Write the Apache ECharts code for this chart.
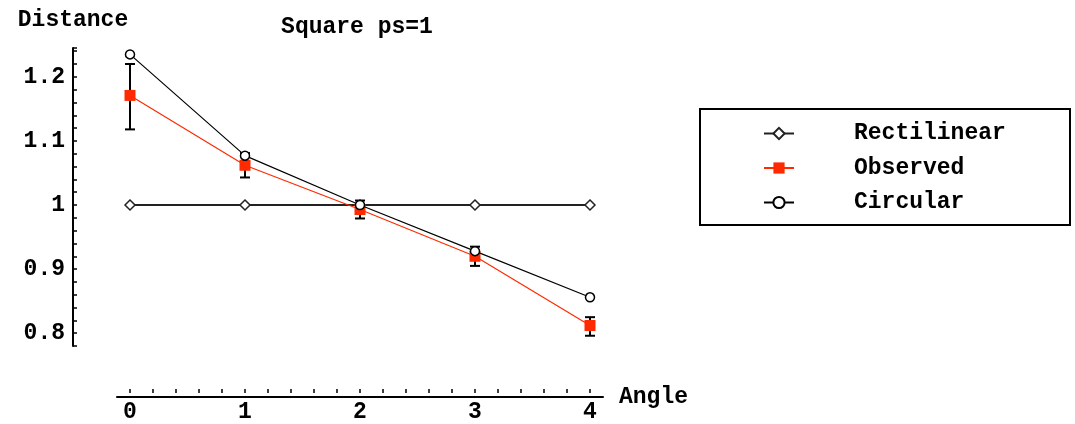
<!DOCTYPE html>
<html>
<head>
<meta charset="utf-8">
<script src="https://cdn.jsdelivr.net/npm/echarts@6/dist/echarts.min.js"></script>
<style>html,body{margin:0;padding:0;background:#fff}#c{width:1075px;height:424px}</style>
</head>
<body>
<div id="c"></div>
<script>
// ---- data ----
var angles = [0, 1, 2, 3, 4];
var rectilinear = [1, 1, 1, 1, 1];
var observed = [1.171, 1.062, 0.993, 0.920, 0.812];
var observedLow = [1.118, 1.043, 0.979, 0.905, 0.796];
var observedHigh = [1.220, 1.081, 1.007, 0.935, 0.825];
var circular = [1.235, 1.077, 1.000, 0.928, 0.856];
var seriesNames = ['Rectilinear', 'Observed', 'Circular'];
var titleText = 'Square ps=1';
var xName = 'Angle', yName = 'Distance';

var FONT = '"Liberation Mono", "Courier New", monospace';
var FS = 23;
var RED = '#ff2a00';

function pairs(ys) { return angles.map(function (x, i) { return [x, ys[i]]; }); }
var errData = angles.map(function (x, i) { return [x, observedLow[i], observedHigh[i]]; });

var chart = echarts.init(document.getElementById('c'), null, { renderer: 'canvas' });
chart.setOption({
  animation: false,
  backgroundColor: '#fff',
  textStyle: { fontFamily: FONT },
  graphic: [{
    type: 'text', x: 357, y: 27,
    style: { text: titleText, font: 'bold ' + FS + 'px ' + FONT, fill: '#000', textAlign: 'center', textVerticalAlign: 'middle' }
  }],
  grid: [
    { left: 73, top: 48, width: 530, height: 298 },
    { left: 117, top: 300, width: 486, height: 97 },
    { left: 130, top: 300, width: 460, height: 97 }
  ],
  xAxis: [
    { gridIndex: 0, type: 'value', min: (73 - 130) / 115, max: (603 - 130) / 115, show: false },
    { gridIndex: 1, type: 'value', min: 0, max: 1, position: 'bottom',
      axisLine: { show: true, onZero: false, lineStyle: { color: '#000', width: 2 } },
      axisTick: { show: false }, axisLabel: { show: false }, splitLine: { show: false },
      name: xName, nameLocation: 'end', nameGap: 16,
      nameTextStyle: { fontFamily: FONT, fontSize: FS, fontWeight: 'bold', color: '#000', verticalAlign: 'middle' }
    },
    { gridIndex: 2, type: 'value', min: 0, max: 4, interval: 0.2, position: 'bottom',
      axisLine: { show: false, onZero: false },
      axisTick: { show: true, inside: true, length: 4, lineStyle: { color: '#000', width: 1.5 } },
      axisLabel: { margin: 8, fontFamily: FONT, fontSize: FS, fontWeight: 'bold', color: '#000',
        formatter: function (v) { var r = Math.round(v * 10); return r % 10 === 0 ? String(r / 10) : ''; } },
      splitLine: { show: false }
    }
  ],
  yAxis: [
    { gridIndex: 0, type: 'value', min: 0.78, max: 1.245, interval: 0.02, position: 'left',
      axisLine: { show: true, onZero: false, lineStyle: { color: '#000', width: 2 } },
      axisTick: { show: true, inside: true, length: 4, lineStyle: { color: '#000', width: 1.5 } },
      axisLabel: { margin: 8, fontFamily: FONT, fontSize: FS, fontWeight: 'bold', color: '#000',
        formatter: function (v) { var r = Math.round(v * 100); return r % 10 === 0 ? String(r / 100) : ''; } },
      splitLine: { show: false },
      name: yName, nameLocation: 'end', nameGap: 28,
      nameTextStyle: { fontFamily: FONT, fontSize: FS, fontWeight: 'bold', color: '#000', align: 'center', verticalAlign: 'middle' }
    },
    { gridIndex: 1, type: 'value', show: false },
    { gridIndex: 2, type: 'value', show: false }
  ],
  legend: {
    orient: 'vertical', left: 700, top: 109,
    data: seriesNames,
    padding: [13, 54, 11, 63],
    itemWidth: 30, itemHeight: 14, itemGap: 11.5,
    borderColor: '#000', borderWidth: 2,
    textStyle: { fontFamily: FONT, fontSize: FS, fontWeight: 'bold', color: '#000', lineHeight: 20, width: 162, padding: [0, 0, 0, 55] }
  },
  series: [
    { type: 'custom', xAxisIndex: 0, yAxisIndex: 0, z: 3, silent: true,
      data: errData,
      renderItem: function (params, api) {
        var x = api.value(0);
        var lo = api.coord([x, api.value(1)]);
        var hi = api.coord([x, api.value(2)]);
        var st = { stroke: '#000', lineWidth: 2 };
        return { type: 'group', children: [
          { type: 'line', shape: { x1: lo[0], y1: lo[1], x2: hi[0], y2: hi[1] }, style: st },
          { type: 'line', shape: { x1: lo[0] - 5, y1: lo[1], x2: lo[0] + 5, y2: lo[1] }, style: st },
          { type: 'line', shape: { x1: hi[0] - 5, y1: hi[1], x2: hi[0] + 5, y2: hi[1] }, style: st }
        ] };
      }
    },
    { name: seriesNames[0], type: 'line', xAxisIndex: 0, yAxisIndex: 0, z: 4,
      data: pairs(rectilinear), symbol: 'diamond', symbolSize: 10, showAllSymbol: true,
      lineStyle: { color: '#222', width: 2 },
      itemStyle: { color: '#fff', borderColor: '#222', borderWidth: 1.5 }
    },
    { name: seriesNames[1], type: 'line', xAxisIndex: 0, yAxisIndex: 0, z: 5,
      data: pairs(observed), symbol: 'rect', symbolSize: 11, showAllSymbol: true,
      lineStyle: { color: RED, width: 1.2 },
      itemStyle: { color: RED, borderWidth: 0 }
    },
    { name: seriesNames[2], type: 'line', xAxisIndex: 0, yAxisIndex: 0, z: 6,
      data: pairs(circular), symbol: 'circle', symbolSize: 9, showAllSymbol: true,
      lineStyle: { color: '#000', width: 1.2 },
      itemStyle: { color: '#fff', borderColor: '#000', borderWidth: 1.5 }
    }
  ]
});
</script>
</body>
</html>
